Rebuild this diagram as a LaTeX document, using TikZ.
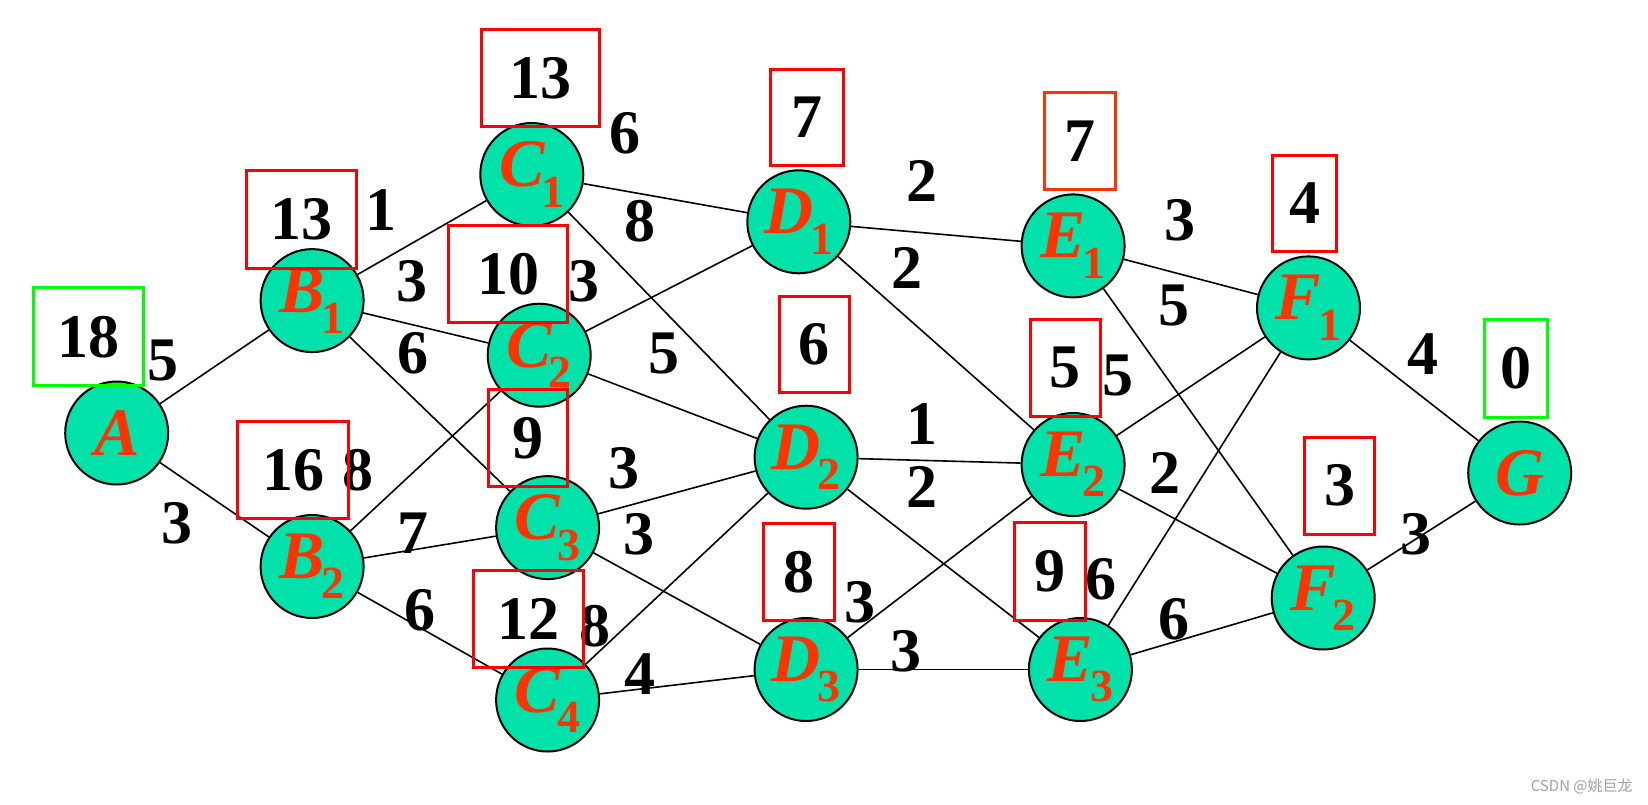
\documentclass[tikz,border=0pt]{standalone}
\usepackage{fontspec}
\setmainfont{Liberation Serif}
\newfontfamily\cjkfont{Noto Sans CJK SC}
\usetikzlibrary{positioning}
\definecolor{vfill}{RGB}{0,226,170}
\definecolor{vtext}{RGB}{255,51,0}
\definecolor{tagred}{RGB}{255,0,0}
\definecolor{tagorange}{RGB}{255,51,0}
\definecolor{taggreen}{RGB}{0,255,0}
\definecolor{markgray}{RGB}{160,160,160}
\tikzset{
        vertex/.style = {draw, circle, fill=vfill, line width=1pt,
            minimum size=51.5pt, inner sep=0pt, text=vtext,
            font=\fontsize{34}{36}\selectfont\bfseries},
        tag/.style = {draw=tagred, rectangle, line width=1.5pt, inner sep=0pt,
            font=\fontsize{31}{33}\selectfont\bfseries},
        weight/.style = {inner sep=0pt, font=\fontsize{31}{33}\selectfont\bfseries},
        edge/.style = {draw, line width=0.8pt},
    }
\newcommand{\vlab}[2]{{\itshape #1}\kern-1.5pt\raisebox{-0.3em}{\fontsize{23}{23}\selectfont #2}}

\begin{document}
\begin{tikzpicture}[x=0.5pt,y=-0.5pt]
\useasboundingbox (0,0) rectangle (1648,804);

% vertices
\node[vertex] (A)  at (116.7,433.0)  {\textit{A}};
\node[vertex] (B1) at (312.1,300.6)  {\vlab{B}{1}};
\node[vertex] (B2) at (312.1,566.5)  {\vlab{B}{2}};
\node[vertex] (C1) at (531.8,174.5)  {\vlab{C}{1}};
\node[vertex] (C2) at (539.2,355.2)  {\vlab{C}{2}};
\node[vertex] (C3) at (547.6,527.6)  {\vlab{C}{3}};
\node[vertex] (C4) at (547.6,700.0)  {\vlab{C}{4}};
\node[vertex] (D1) at (798.8,221.8)  {\vlab{D}{1}};
\node[vertex] (D2) at (806.1,457.2)  {\vlab{D}{2}};
\node[vertex] (D3) at (806.1,669.5)  {\vlab{D}{3}};
\node[vertex] (E1) at (1073.1,245.9) {\vlab{E}{1}};
\node[vertex] (E2) at (1073.1,464.5) {\vlab{E}{2}};
\node[vertex] (E3) at (1080.4,669.5) {\vlab{E}{3}};
\node[vertex] (F1) at (1308.5,307.9) {\vlab{F}{1}};
\node[vertex] (F2) at (1323.2,598.0) {\vlab{F}{2}};
\node[vertex] (G)  at (1519.7,473.0) {\textit{G}};

% edges
\foreach \s/\t in {A/B1,A/B2,B1/C1,B1/C2,B1/C3,B2/C2,B2/C3,B2/C4,
    C1/D1,C1/D2,C2/D1,C2/D2,C3/D2,C3/D3,C4/D2,C4/D3,
    D1/E1,D1/E2,D2/E2,D2/E3,D3/E2,D3/E3,
    E1/F1,E1/F2,E2/F1,E2/F2,E3/F1,E3/F2,F1/G,F2/G}
    \path[edge] (\s) -- (\t);

% edge weights
\node[weight] (wAB1)  at (162.9,360.5)  {5};
\node[weight] (wAB2)  at (176.6,523.4)  {3};
\node[weight] (wB1C1) at (380.5,210.2)  {1};
\node[weight] (wB1C2) at (412.0,281.7)  {3};
\node[weight] (wB1C3) at (413.0,353.1)  {6};
\node[weight] (wB2C2) at (358.4,469.8)  {8};
\node[weight] (wB2C3) at (413.0,532.9)  {7};
\node[weight] (wB2C4) at (420.4,610.6)  {6};
\node[weight] (wC1D1) at (625.3,133.5)  {6};
\node[weight] (wC1D2) at (640.1,220.7)  {8};
\node[weight] (wC2D1) at (584.4,281.7)  {3};
\node[weight] (wC2D2) at (664.2,353.1)  {5};
\node[weight] (wC3D2) at (624.3,468.7)  {3};
\node[weight] (wC3D3) at (639.0,533.9)  {3};
\node[weight] (wC4D2) at (594.9,626.4)  {8};
\node[weight] (wC4D3) at (640.1,673.7)  {4};
\node[weight] (wD1E1) at (921.7,180.8)  {2};
\node[weight] (wD1E2) at (907.0,268.0)  {2};
\node[weight] (wD2E2) at (921.7,423.6)  {1};
\node[weight] (wD2E3) at (921.7,486.6)  {2};
\node[weight] (wD3E2) at (859.7,602.2)  {3};
\node[weight] (wD3E3) at (906.0,651.6)  {3};
\node[weight] (wE1F1) at (1180.3,220.7) {3};
\node[weight] (wE1F2) at (1174.0,305.8) {5};
\node[weight] (wE2F1) at (1118.3,375.2) {5};
\node[weight] (wE2F2) at (1164.5,473.0) {2};
\node[weight] (wE3F1) at (1101.4,579.1) {6};
\node[weight] (wE3F2) at (1174.0,619.0) {6};
\node[weight] (wF1G)  at (1423.1,354.2) {4};
\node[weight] (wF2G)  at (1415.7,533.9) {3};

% shortest distances to G
\node[tag, draw=taggreen, minimum width=55pt, minimum height=49pt] (tA) at (88.8,336.8) {18};
\node[tag, minimum width=55pt, minimum height=49pt] (tB1) at (301.1,219.1) {13};
\node[tag, minimum width=55.5pt, minimum height=48.5pt] (tB2) at (293.2,469.8) {16};
\node[tag, minimum width=59pt, minimum height=48.5pt] (tC1) at (540.2,77.8) {13};
\node[tag, minimum width=59.5pt, minimum height=48.5pt] (tC2) at (508.2,274.3) {10};
\node[tag, minimum width=39.5pt, minimum height=48.5pt] (tC3) at (528.1,438.3) {9};
\node[tag, minimum width=55pt, minimum height=48.5pt] (tC4) at (528.1,619.0) {12};
\node[tag, minimum width=36.5pt, minimum height=48pt] (tD1) at (806.6,117.2) {7};
\node[tag, minimum width=35pt, minimum height=48pt] (tD2) at (814.0,344.2) {6};
\node[tag, minimum width=35.5pt, minimum height=48.5pt] (tD3) at (798.8,571.7) {8};
\node[tag, draw=tagorange, minimum width=35.5pt, minimum height=48.5pt] (tE1) at (1080.4,140.8) {7};
\node[tag, minimum width=35pt, minimum height=48.5pt] (tE2) at (1065.2,367.9) {5};
\node[tag, minimum width=35.5pt, minimum height=49pt] (tE3) at (1049.9,571.2) {9};
\node[tag, minimum width=32pt, minimum height=48pt] (tF1) at (1304.8,203.4) {4};
\node[tag, minimum width=35pt, minimum height=48.5pt] (tF2) at (1339.5,485.6) {3};
\node[tag, draw=taggreen, minimum width=31.5pt, minimum height=49pt] (tG) at (1515.5,368.4) {0};

% watermark
\node[text=markgray, font=\cjkfont\fontsize{7.5}{8}\selectfont, inner sep=0pt] (mark) at (1581.7,786.1) {CSDN @姚巨龙};
\end{tikzpicture}
\end{document}
